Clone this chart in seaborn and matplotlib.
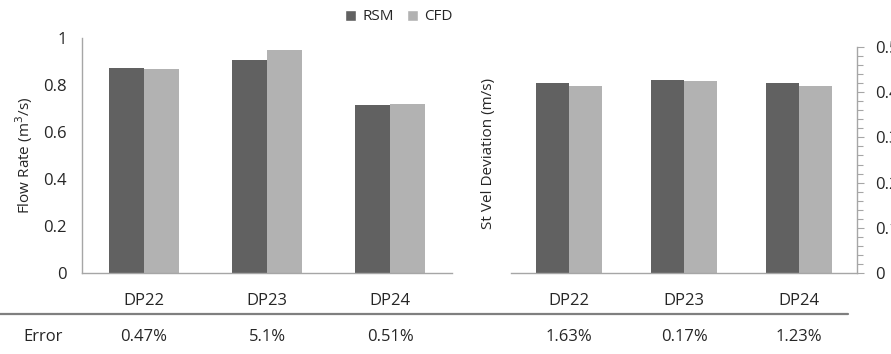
import pandas as pd
import numpy as np
import matplotlib
matplotlib.use('Agg')
import matplotlib.pyplot as plt
from matplotlib.ticker import MultipleLocator, FuncFormatter
from matplotlib.lines import Line2D
from matplotlib.patches import Patch
import seaborn as sns

POINTS = ['DP22', 'DP23', 'DP24']
MODELS = ['RSM', 'CFD']

flow_rsm = [0.874, 0.906, 0.716]
flow_cfd = [0.870, 0.952, 0.719]
flow_err = ['0.47%', '5.1%', '0.51%']

vel_rsm = [0.421, 0.426, 0.419]
vel_cfd = [0.414, 0.425, 0.413]
vel_err = ['1.63%', '0.17%', '1.23%']

DARK = '#616161'
LIGHT = '#b2b2b2'
AXIS_GRAY = '#a6a6a6'
BIG = 12      # horizontal labels (the source image is stretched sideways)
SMALL = 11    # rotated axis titles and legend

sns.set_style('white')
plt.rcParams['font.family'] = ['Open Sans', 'DejaVu Sans']
plt.rcParams['font.size'] = SMALL


def long_frame(rsm, cfd):
    return pd.DataFrame({
        'point': POINTS * 2,
        'model': ['RSM'] * 3 + ['CFD'] * 3,
        'value': list(rsm) + list(cfd),
    })


fig = plt.figure(figsize=(8.91, 3.54), dpi=100)
W, H = 891, 354


def px_axes(x0, x1, ytop, ybot):
    return fig.add_axes([x0 / W, (H - ybot) / H, (x1 - x0) / W, (ybot - ytop) / H])


ax1 = px_axes(82, 452, 38.3, 273.3)
ax2 = px_axes(511, 857, 46.7, 273.3)

fmt = FuncFormatter(lambda v, p: '{:g}'.format(round(v, 3)))

for ax, rsm, cfd, ymax, major, minor in [
        (ax1, flow_rsm, flow_cfd, 1.0, 0.2, 0.04),
        (ax2, vel_rsm, vel_cfd, 0.5, 0.1, 0.02)]:
    sns.barplot(data=long_frame(rsm, cfd), x='point', y='value', hue='model',
                hue_order=MODELS, palette=[DARK, LIGHT], width=0.57, gap=0,
                linewidth=0, saturation=1, legend=False, ax=ax)
    ax.set_ylim(0, ymax)
    ax.set_xlim(-0.5, 2.5)
    ax.yaxis.set_major_locator(MultipleLocator(major))
    ax.yaxis.set_minor_locator(MultipleLocator(minor))
    ax.yaxis.set_major_formatter(fmt)
    ax.set_xlabel('')
    ax.tick_params(axis='x', length=0, pad=14, labelsize=BIG)
    ax.tick_params(axis='y', which='both', direction='out', length=5,
                   width=0.8, color=AXIS_GRAY, labelsize=BIG)
    ax.tick_params(axis='y', which='minor', length=4)
    for s in ax.spines.values():
        s.set_color(AXIS_GRAY)
        s.set_linewidth(1.0)

# left chart
ax1.spines['top'].set_visible(False)
ax1.spines['right'].set_visible(False)
ax1.tick_params(axis='y', pad=6)
ax1.set_ylabel('Flow Rate (m$^3$/s)', fontsize=SMALL)
ax1.yaxis.set_label_coords(-0.128, 0.5)

# right chart: ticks on right, label on left
ax2.spines['top'].set_visible(False)
ax2.spines['left'].set_visible(False)
ax2.yaxis.tick_right()
ax2.tick_params(axis='y', pad=8)
ax2.yaxis.set_label_position('left')
ax2.set_ylabel('St Vel Deviation (m/s)', fontsize=SMALL)
ax2.yaxis.set_label_coords(-0.042, 0.53)

# error row
fig.add_artist(Line2D([0.0, 848 / W], [(H - 314) / H] * 2, color='#7f7f7f', lw=1.6))
err_y = (H - 337) / H
fig.text(43 / W, err_y, 'Error', ha='center', va='center', fontsize=BIG)
for ax, errs in [(ax1, flow_err), (ax2, vel_err)]:
    trans = matplotlib.transforms.blended_transform_factory(ax.transData, fig.transFigure)
    for i, e in enumerate(errs):
        ax.text(i, err_y, e, transform=trans, ha='center', va='center', fontsize=BIG)

# legend
handles = [Patch(facecolor=DARK, label='RSM'), Patch(facecolor=LIGHT, label='CFD')]
fig.legend(handles=handles, loc='center', bbox_to_anchor=(399 / W, (H - 17) / H),
           ncol=2, frameon=False, handlelength=0.7, handleheight=0.7,
           handletextpad=0.4, columnspacing=0.9, fontsize=SMALL)

fig.savefig('out.png', dpi=100)
